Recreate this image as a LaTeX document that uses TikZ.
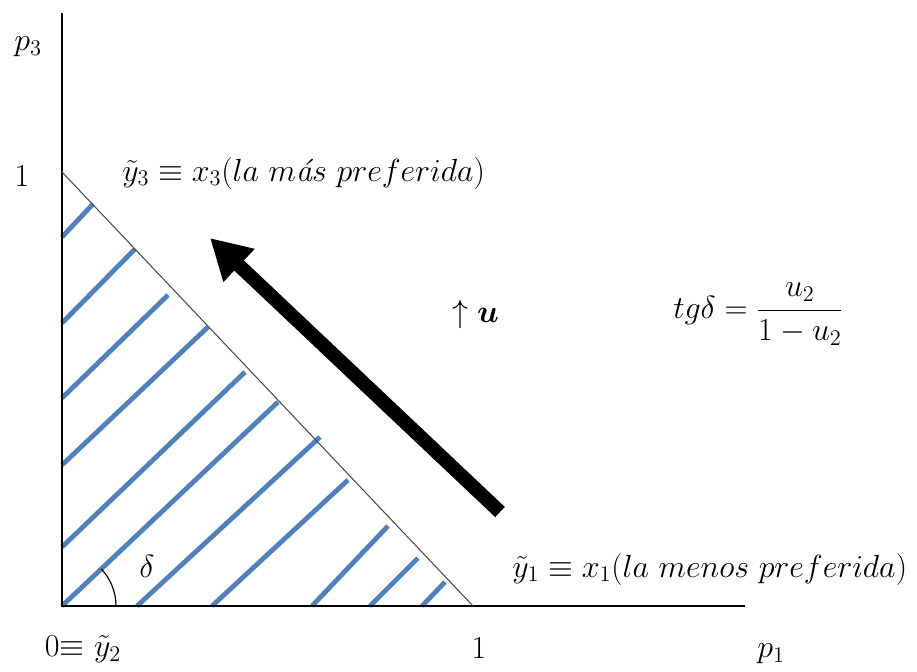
\RequirePackage{fix-cm}
\documentclass[tikz,border=0pt]{standalone}
\usepackage{amsmath}
\usepackage{bm}
\usetikzlibrary{arrows.meta}
\definecolor{hatchblue}{RGB}{79,129,189}
\tikzset{
  x=0.75pt,y=0.75pt,
  axisline/.style={draw=black,line width=1.1pt},
  hypline/.style={draw=black!70,line width=0.8pt},
  hatchline/.style={draw=hatchblue,line width=3.6pt},
  bigarrow/.style={draw=black,line width=10.5pt,-{Triangle[length=30pt,width=32pt]}},
  lbl/.style={inner sep=0pt,font=\fontsize{24}{29}\selectfont},
}
\begin{document}
\begin{tikzpicture}
\useasboundingbox (0,0) rectangle (917,-671);
% axes
\coordinate (O) at (62,-606);
\coordinate (ytop) at (62,-13);
\coordinate (xend) at (745,-606);
\coordinate (Y1) at (62,-172);
\coordinate (X1) at (473,-606);
% hatching
\foreach \a/\b/\c/\d [count=\i] in {62/237/93/204, 62/323/135/249, 62/398/168/295, 62/465/208/327, 62/547/245/372, 62/606/278/402, 137/606/320/437, 212/606/348/480, 312/606/388/526, 370/606/418/558, 422/606/445/582}{
  \coordinate (h\i s) at (\a,-\b);
  \coordinate (h\i e) at (\c,-\d);
  \draw[hatchline] (h\i s) -- (h\i e);
}
\draw[axisline] (ytop) -- (O) -- (xend);
\draw[hypline] (Y1) -- (X1);
% angle
\coordinate (arcstart) at (116,-606);
\draw[line width=0.9pt] (arcstart) arc[start angle=0,end angle=43,radius=54];
\node[lbl] (delta) at (147,-566) {$\delta$};
% arrow
\coordinate (atail) at (500,-512);
\coordinate (ahead) at (210,-238);
\draw[bigarrow] (atail) -- (ahead);
% labels
\node[lbl] (p3) at (28,-47) {$p_3$};
\node[lbl] (one3) at (22,-176) {$1$};
\node[lbl,anchor=base west] (y3) at (122,-181) {$\tilde{y}_3\equiv x_3(la\ m\textit{á}s\ preferida)$};
\node[lbl,anchor=base west] (up) at (452,-322) {$\uparrow\bm{u}$};
\node[lbl,anchor=west] (tg) at (673,-314) {$tg\delta=\dfrac{u_2}{1-u_2}$};
\node[lbl,anchor=base west] (y1) at (512,-577) {$\tilde{y}_1\equiv x_1(la\ menos\ preferida)$};
\node[lbl] (one1) at (479,-648) {$1$};
\node[lbl] (p1) at (771,-654) {$p_1$};
\node[lbl] (zero) at (83,-649) {$0{\equiv}\ \tilde{y}_2$};
\end{tikzpicture}
\end{document}
